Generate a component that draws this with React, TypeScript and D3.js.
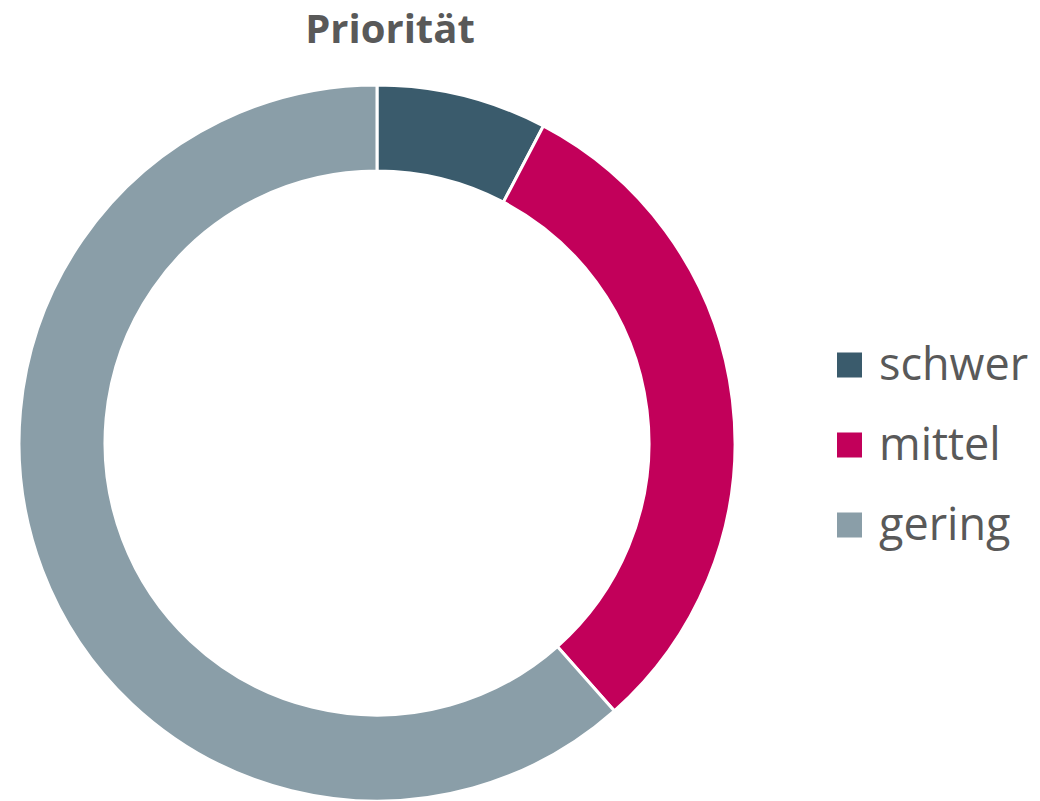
import React from "react";
import * as d3 from "d3";

const categories = ["schwer", "mittel", "gering"];
const values = [5, 20, 40];
const colors = ["#3A5B6C", "#C2005A", "#8A9EA8"];
const title = "Priorität";

export default function App() {
  const width = 1040;
  const height = 801;
  const cx = 377;
  const cy = 443;
  const outerR = 358;
  const innerR = 272;

  const pie = d3.pie<number>().value((d) => d).sort(null);
  const arcs = pie(values);
  const arcGen = d3.arc<d3.PieArcDatum<number>>().innerRadius(innerR).outerRadius(outerR);

  const legendY = d3.scaleBand<string>().domain(categories).range([325, 565]);

  return (
    <svg
      width={width}
      height={height}
      style={{ position: "absolute", left: 0, top: 0, background: "#fff" }}
    >
      <text
        x={390}
        y={43}
        textAnchor="middle"
        fontFamily="Open Sans, sans-serif"
        fontWeight="bold"
        fontSize={40}
        fill="#595959"
      >
        {title}
      </text>
      <g transform={`translate(${cx},${cy})`}>
        {arcs.map((a, i) => (
          <path key={i} d={arcGen(a) || ""} fill={colors[i]} stroke="#fff" strokeWidth={3} />
        ))}
      </g>
      {categories.map((c, i) => {
        const y = (legendY(c) || 0) + legendY.bandwidth() / 2;
        return (
          <g key={c}>
            <rect x={837} y={y - 12.5} width={25} height={25} fill={colors[i]} />
            <text
              x={879}
              y={y + 15}
              fontFamily="Open Sans, sans-serif"
              fontSize={45}
              fill="#595959"
            >
              {c}
            </text>
          </g>
        );
      })}
    </svg>
  );
}
